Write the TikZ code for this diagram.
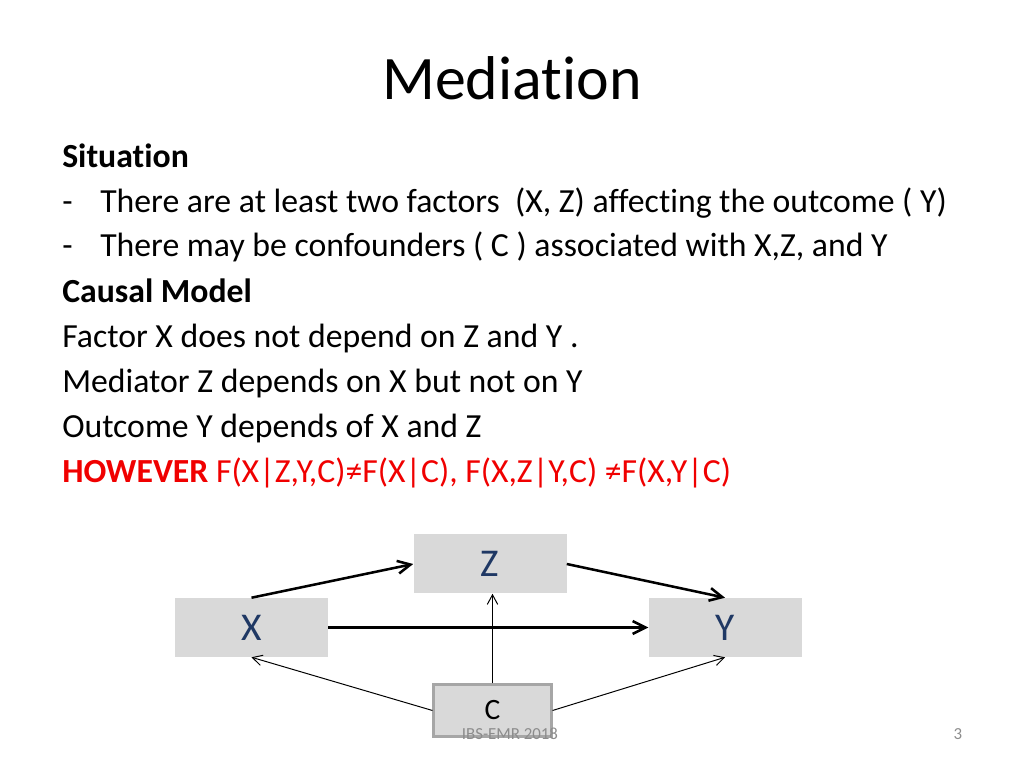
\documentclass[tikz,border=0pt]{standalone}
\usepackage{fontspec}
\setmainfont{Carlito}[Ligatures=NoCommon]
\usetikzlibrary{arrows.meta,positioning}
\definecolor{boxgray}{HTML}{D9D9D9}
\definecolor{boxedge}{HTML}{A6A6A6}
\definecolor{navy}{HTML}{1F3864}
\definecolor{alertred}{HTML}{F00000}
\definecolor{footgray}{HTML}{8C8C8C}

\begin{document}
\begin{tikzpicture}[
  txt/.style={font=\fontsize{24}{28}\selectfont,anchor=base west,inner sep=0pt},
  var/.style={fill=boxgray,minimum width=3.825cm,minimum height=1.475cm,inner sep=0pt,
    font=\fontsize{28}{32}\selectfont,text=navy},
  conf/.style={fill=boxgray,draw=boxedge,line width=1.5pt,minimum width=2.95cm,minimum height=1.3cm,
    inner sep=0pt,font=\fontsize{21}{24}\selectfont},
  foot/.style={font=\fontsize{12}{14}\selectfont,text=footgray,anchor=base,inner sep=0pt},
  big/.style={-{Straight Barb[length=3.2mm,width=3.2mm]},line width=1.8pt},
  small/.style={-{Straight Barb[length=2.4mm,width=2.6mm]},line width=0.7pt}]
  \useasboundingbox (0,0) rectangle (25.6,19.2);
  % title and text lines
  \node[font=\fontsize{44}{50}\selectfont,anchor=base,inner sep=0pt](title) at (12.8,16.7){Mediation};
  \node[txt](l1) at (1.55,15.0){\textbf{Situation}};
  \node[txt](d1) at (1.55,13.875){-};
  \node[txt](l2) at (2.5,13.875){There are at least two factors\ \ (X, Z) affecting the outcome ( Y)};
  \node[txt](d2) at (1.55,12.775){-};
  \node[txt](l3) at (2.5,12.775){There may be confounders ( C ) associated with X,Z, and Y};
  \node[txt](l4) at (1.55,11.625){\textbf{Causal Model}};
  \node[txt](l5) at (1.55,10.5){Factor X does not depend on Z and Y .};
  \node[txt](l6) at (1.55,9.375){Mediator Z depends on X but not on Y};
  \node[txt](l7) at (1.55,8.25){Outcome Y depends of X and Z};
  \node[txt,text=alertred](l8) at (1.55,7.125){\textbf{HOWEVER} F(X|Z,Y,C)≠F(X|C), F(X,Z|Y,C) ≠F(X,Y|C)};
  % causal diagram
  \node[var](x) at (6.2875,3.5125){X};
  \node[var,right=8cm of x](y){Y};
  \node[var](z) at (12.25,5.1){Z};
  \node[conf](c) at (12.3125,1.4375){C};
  \draw[big](x.north)--(z.west);
  \draw[big](z.east)--(y.north);
  \draw[big](x.east)--(y.west);
  \draw[small](c.north)--(c.north|-z.south);
  \draw[small](c.west)--(x.south);
  \draw[small](c.east)--(y.south);
  % footer
  \node[foot](date) at (12.75,0.7){IBS-EMR 2018};
  \node[foot](page) at (23.95,0.7){3};
\end{tikzpicture}
\end{document}
